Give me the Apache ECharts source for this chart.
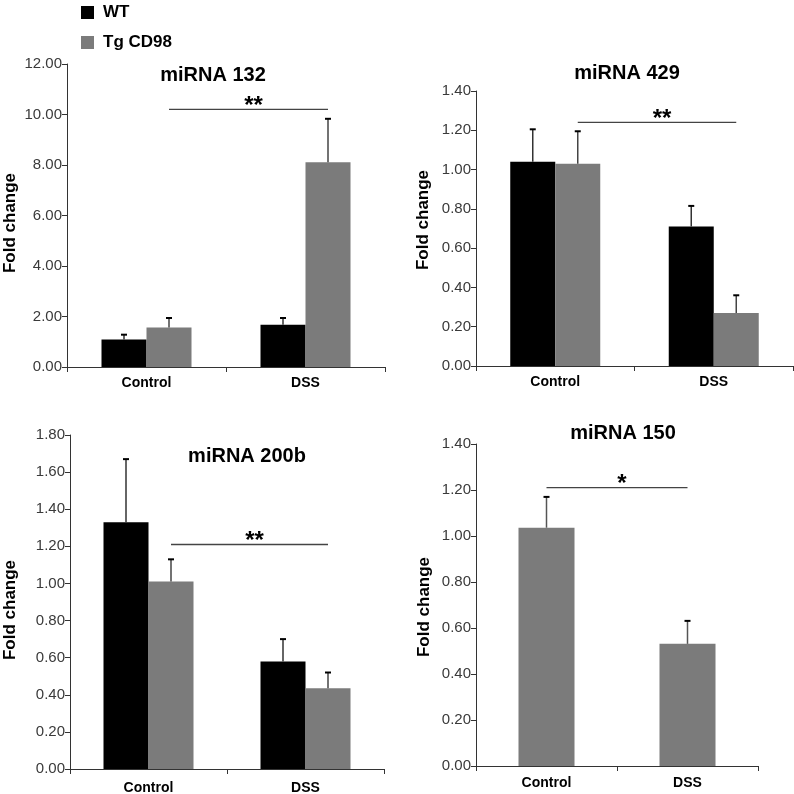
<!DOCTYPE html>
<html>
<head>
<meta charset="utf-8">
<script src="https://cdn.jsdelivr.net/npm/echarts@6/dist/echarts.min.js"></script>
<style>html,body{margin:0;padding:0;background:#fff}#c{width:794px;height:794px}</style>
</head>
<body>
<div id="c"></div>
<script>
// ---- data ----
const categories = ['Control', 'DSS'];
const seriesNames = ['WT', 'Tg CD98'];
const panelTitles = ['miRNA 132', 'miRNA 429', 'miRNA 200b', 'miRNA 150'];
const yAxisName = 'Fold change';

// miRNA 132
const mir132_wt = [1.09, 1.67];
const mir132_wt_err = [0.19, 0.27];
const mir132_tg = [1.56, 8.11];
const mir132_tg_err = [0.38, 1.72];
// miRNA 429
const mir429_wt = [1.04, 0.71];
const mir429_wt_err = [0.165, 0.105];
const mir429_tg = [1.03, 0.27];
const mir429_tg_err = [0.165, 0.09];
// miRNA 200b
const mir200b_wt = [1.33, 0.58];
const mir200b_wt_err = [0.34, 0.12];
const mir200b_tg = [1.01, 0.435];
const mir200b_tg_err = [0.12, 0.085];
// miRNA 150 (Tg CD98 only)
const mir150_tg = [1.036, 0.531];
const mir150_tg_err = [0.134, 0.10];

// axis ranges
const yMax = [12, 1.4, 1.8, 1.4];
const yInterval = [2, 0.2, 0.2, 0.2];

// significance brackets
const sigLevel = [10.2, 1.24, 1.21, 1.21];
const sigLabel = ['**', '**', '**', '*'];

// ---- layout / style ----
const BLACK = '#000000';
const GRAY = '#7b7b7b';
const FONT = 'Liberation Sans, Arial, Helvetica, sans-serif';

const panels = [
  { grid: {left: 67, top: 64, width: 318, height: 303}, bw: 45, xMargin: 9, yName: [10, 223],
    wt: mir132_wt, wtErr: mir132_wt_err, tg: mir132_tg, tgErr: mir132_tg_err, title: [213, 75], sigOff: 0.5 },
  { grid: {left: 476, top: 91, width: 317, height: 275}, bw: 45, xMargin: 9, yName: [423, 220],
    wt: mir429_wt, wtErr: mir429_wt_err, tg: mir429_tg, tgErr: mir429_tg_err, title: [627, 73], sigOff: 0.5 },
  { grid: {left: 70, top: 435, width: 314, height: 334}, bw: 45, xMargin: 12, yName: [10, 610],
    wt: mir200b_wt, wtErr: mir200b_wt_err, tg: mir200b_tg, tgErr: mir200b_tg_err, title: [247, 456], sigOff: 0.5 },
  { grid: {left: 476, top: 444, width: 282, height: 322}, bw: 56, xMargin: 10, yName: [424, 607],
    wt: null, wtErr: null, tg: mir150_tg, tgErr: mir150_tg_err, title: [623, 433], sigOff: 0 }
];

const grids = [], xAxes = [], yAxes = [], series = [], graphics = [];

function errorSeries(idx, vals, errs, offset, color) {
  return {
    type: 'custom', name: 'err' + idx + offset, xAxisIndex: idx, yAxisIndex: idx, z: 5,
    data: vals.map((v, i) => [i, v, errs[i]]),
    renderItem: function (params, api) {
      const c = api.value(0), v = api.value(1), e = api.value(2);
      const p0 = api.coord([c, v]);
      const p1 = api.coord([c, v + e]);
      const x = p0[0] + offset;
      return {
        type: 'group',
        children: [
          { type: 'line', shape: {x1: x, y1: p0[1], x2: x, y2: p1[1]}, style: {stroke: color, lineWidth: 1.5} },
          { type: 'line', shape: {x1: x - 3, y1: p1[1], x2: x + 3, y2: p1[1]}, style: {stroke: '#000', lineWidth: 2} }
        ]
      };
    }
  };
}

panels.forEach((p, idx) => {
  grids.push(Object.assign({containLabel: false, outerBoundsMode: 'none'}, p.grid));
  xAxes.push({
    type: 'category', gridIndex: idx, data: categories,
    axisLine: {lineStyle: {color: '#333', width: 1}},
    axisTick: {show: true, length: 5, lineStyle: {color: '#333'}},
    axisLabel: {color: '#000', fontFamily: FONT, fontWeight: 'bold', fontSize: 14, margin: p.xMargin}
  });
  yAxes.push({
    type: 'value', gridIndex: idx, min: 0, max: yMax[idx], interval: yInterval[idx],
    axisLine: {show: true, lineStyle: {color: '#333', width: 1}},
    axisTick: {show: true, length: 5, lineStyle: {color: '#333'}},
    splitLine: {show: false},
    axisLabel: {color: '#3a3a3a', fontFamily: FONT, fontSize: 15, margin: 5,
      formatter: v => v.toFixed(2)}
  });
  if (p.wt) {
    series.push({
      type: 'bar', name: seriesNames[0], xAxisIndex: idx, yAxisIndex: idx,
      data: p.wt, barWidth: p.bw, barGap: '0%', itemStyle: {color: BLACK}, animation: false
    });
  }
  series.push({
    type: 'bar', name: seriesNames[1], xAxisIndex: idx, yAxisIndex: idx,
    data: p.tg, barWidth: p.bw, barGap: '0%', itemStyle: {color: GRAY}, animation: false
  });
  if (p.wt) {
    series.push(errorSeries(idx, p.wt, p.wtErr, -p.bw / 2, '#333'));
    series.push(errorSeries(idx, p.tg, p.tgErr, p.bw / 2, '#444'));
  } else {
    series.push(errorSeries(idx, p.tg, p.tgErr, 0, '#555'));
  }
  // significance bracket
  const off = p.sigOff * p.bw;
  series.push({
    type: 'custom', name: 'sig' + idx, xAxisIndex: idx, yAxisIndex: idx, z: 6,
    data: [[0, 1, sigLevel[idx]]],
    renderItem: function (params, api) {
      const a = api.coord([api.value(0), api.value(2)]);
      const b = api.coord([api.value(1), api.value(2)]);
      const x1 = a[0] + off, x2 = b[0] + off;
      return {
        type: 'group',
        children: [
          { type: 'line', shape: {x1: x1, y1: a[1], x2: x2, y2: a[1]}, style: {stroke: '#444', lineWidth: 1.3} },
          { type: 'text', x: (x1 + x2) / 2 + 5, y: a[1] - 3,
            style: {text: sigLabel[idx], fill: '#000', font: 'bold 24px ' + FONT,
              textAlign: 'center', textVerticalAlign: 'middle'} }
        ]
      };
    }
  });
  graphics.push({
    type: 'text', x: p.title[0], y: p.title[1],
    style: {text: panelTitles[idx], fill: '#000', font: 'bold 20px ' + FONT,
      textAlign: 'center', textVerticalAlign: 'middle'}
  });
  graphics.push({
    type: 'text', x: p.yName[0], y: p.yName[1], rotation: Math.PI / 2,
    style: {text: yAxisName, fill: '#000', font: 'bold 17px ' + FONT,
      textAlign: 'center', textVerticalAlign: 'middle'}
  });
});

const chart = echarts.init(document.getElementById('c'), null, {renderer: 'canvas'});
chart.setOption({
  animation: false,
  backgroundColor: '#fff',
  legend: {
    data: seriesNames, orient: 'vertical', left: 76, top: -1, itemGap: 13,
    itemWidth: 13, itemHeight: 13, icon: 'rect',
    textStyle: {color: '#000', fontFamily: FONT, fontWeight: 'bold', fontSize: 17, padding: [0, 0, 0, 4]},
    selectedMode: false
  },
  grid: grids, xAxis: xAxes, yAxis: yAxes, series: series, graphic: graphics
});
</script>
</body>
</html>
